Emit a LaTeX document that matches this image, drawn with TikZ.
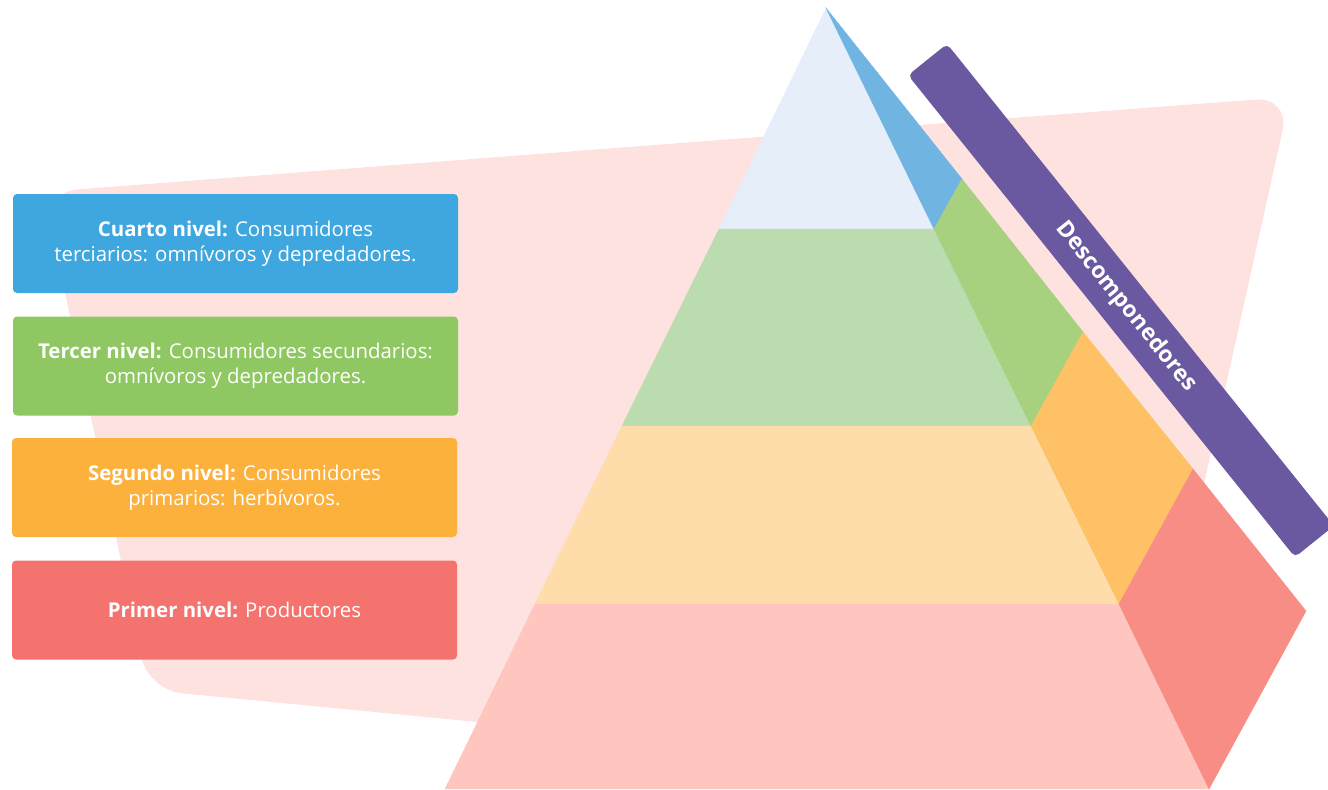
\documentclass[tikz,border=0pt]{standalone}
\usepackage{fontspec}
\setmainfont{Open Sans}
\definecolor{bgpink}{HTML}{FDE2E0}
\definecolor{boxcuarto}{HTML}{3FA7DF}
\definecolor{boxtercer}{HTML}{8FC862}
\definecolor{boxsegundo}{HTML}{FDB13D}
\definecolor{boxprimer}{HTML}{F5736F}
\definecolor{frontcuarto}{HTML}{E6EEF9}
\definecolor{fronttercer}{HTML}{BBDCAF}
\definecolor{frontsegundo}{HTML}{FEDDAA}
\definecolor{frontprimer}{HTML}{FEC6BF}
\definecolor{sidecuarto}{HTML}{70B4E2}
\definecolor{sidetercer}{HTML}{A7D17E}
\definecolor{sidesegundo}{HTML}{FEC166}
\definecolor{sideprimer}{HTML}{F88D86}
\definecolor{descomp}{HTML}{6A59A0}
\tikzset{
	nivelbox/.style={rounded corners=2pt, minimum width=222.5pt, minimum height=49.5pt,
		text=white, align=center, font=\fontsize{10.2}{12.5}\selectfont, inner sep=0pt},
	cara/.style={fill=#1, draw=#1, line width=0.2pt}
}
\begin{document}
	\begin{tikzpicture}[x=0.5pt, y=-0.5pt]
		\useasboundingbox (0,0) rectangle (1328,789);
		
		% fondo
		\fill[bgpink, rounded corners=17pt] (667,144) -- (1290,97) -- (1137,786) -- (148,690) -- (44,192) -- cycle;
		
		% niveles
		\node[nivelbox, fill=boxcuarto] (cuarto) at (235.5,243.5) {\textbf{Cuarto nivel:} Consumidores\\terciarios: omnívoros y depredadores.};
		\node[nivelbox, fill=boxtercer] (tercer) at (235.5,366) {\textbf{Tercer nivel:} Consumidores secundarios:\\omnívoros y depredadores.};
		\node[nivelbox, fill=boxsegundo] (segundo) at (234.5,487.5) {\textbf{Segundo nivel:} Consumidores\\primarios: herbívoros.};
		\node[nivelbox, fill=boxprimer] (primer) at (234.5,610) {\textbf{Primer nivel:} Productores};
		
		% piramide
		\coordinate (l0) at (826,8);   \coordinate (r0) at (826,8);    \coordinate (o0) at (826,8);
		\coordinate (l1) at (719,229); \coordinate (r1) at (934,229);  \coordinate (o1) at (962,179);
		\coordinate (l2) at (622,426); \coordinate (r2) at (1031,426); \coordinate (o2) at (1083,332);
		\coordinate (l3) at (535,604); \coordinate (r3) at (1119,604); \coordinate (o3) at (1193,469);
		\coordinate (l4) at (445,789); \coordinate (r4) at (1209,789); \coordinate (o4) at (1306,611);
		
		\foreach \a/\b/\nivel in {0/1/cuarto, 1/2/tercer, 2/3/segundo, 3/4/primer}
		{
			\fill[cara=front\nivel] (l\a) -- (r\a) -- (r\b) -- (l\b) -- cycle;
			\fill[cara=side\nivel] (r\a) -- (o\a) -- (o\b) -- (r\b) -- cycle;
		}
		
		% descomponedores
		\node[fill=descomp, rounded corners=2.5pt, minimum width=309pt, minimum height=25pt, rotate=-51.24,
			text=white, font=\fontsize{11.4}{14}\selectfont\bfseries] (descomponedores) at (1121,300.5) {\hspace{8pt}Descomponedores};
	\end{tikzpicture}
\end{document}
